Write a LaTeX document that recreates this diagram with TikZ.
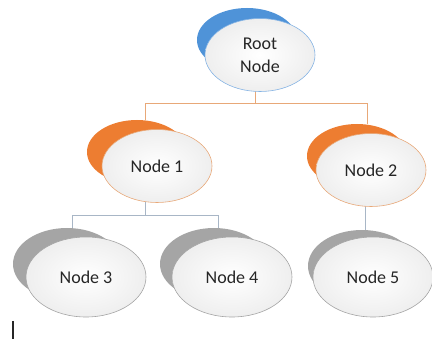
\documentclass[tikz,border=0pt]{standalone}
\usepackage{fontspec}
\setmainfont{Carlito}
\usetikzlibrary{shapes.geometric}
\definecolor{cblue}{HTML}{4F93D8}
\definecolor{corange}{HTML}{ED7D31}
\definecolor{cgray}{HTML}{A5A5A5}
\definecolor{lorange}{HTML}{E8A878}
\definecolor{lgrayblue}{HTML}{A8B6C6}
\definecolor{ctext}{HTML}{262626}
\tikzset{
  backell/.style={ellipse, inner sep=0pt, draw=none},
  backA/.style={minimum width=100pt, minimum height=64pt},
  backB/.style={minimum width=108pt, minimum height=72pt},
  frontA/.style={minimum width=110pt, minimum height=73pt},
  frontB/.style={minimum width=120pt, minimum height=80pt},
  frontell/.style={ellipse, inner sep=0pt, draw=#1, line width=0.6pt,
    inner color=white, outer color=gray!13, text=ctext,
    font=\fontsize{18}{23}\selectfont, align=center},
  oline/.style={draw=lorange, line width=0.9pt},
  gline/.style={draw=lgrayblue, line width=0.9pt},
}
\begin{document}
\begin{tikzpicture}[x=1pt,y=-1pt]
\useasboundingbox (0,0) rectangle (432,342);
% back ellipses
\node[backell, backA, fill=cblue] (rb) at (247,40) {};
\node[backell, backA, fill=corange] (n1b) at (137,152) {};
\node[backell, backA, fill=corange] (n2b) at (357,156) {};
\node[backell, backB, fill=cgray] (n3b) at (67,264) {};
\node[backell, backB, fill=cgray] (n4b) at (214,264) {};
\node[backell, backB, fill=cgray] (n5b) at (362,266) {};
% front ellipse positions
\coordinate (rc) at (260,55);
\coordinate (n1c) at (157,166);
\coordinate (n2c) at (371,170);
% connectors
\draw[oline] ([xshift=-5pt]rc) -- ++(0,48) coordinate (bus1) -| ([xshift=8pt]n1b.north);
\draw[oline] (bus1) -| ([xshift=10pt]n2b.north);
\draw[gline] ([xshift=-12pt]n1c) -- ++(0,49) coordinate (bus2) -| ([xshift=5pt]n3b.north);
\draw[gline] (bus2) -| ([xshift=4pt]n4b.north);
\draw[gline] ([xshift=-6pt]n2c) -- ([xshift=-6pt]n2c |- n5b.north);
% front ellipses
\node[frontell=cblue!70, frontA] (rf) at (rc) {Root\\Node};
\node[frontell=lorange, frontA] (n1f) at (n1c) {Node 1};
\node[frontell=lorange, frontA] (n2f) at (n2c) {Node 2};
\node[frontell=cgray, frontB] (n3f) at (86,277) {Node 3};
\node[frontell=cgray, frontB] (n4f) at (232,277) {Node 4};
\node[frontell=cgray, frontB] (n5f) at (373,277) {Node 5};
% cursor
\draw[line width=1.2pt, black!85] (13,321) -- (13,339);
\end{tikzpicture}
\end{document}
